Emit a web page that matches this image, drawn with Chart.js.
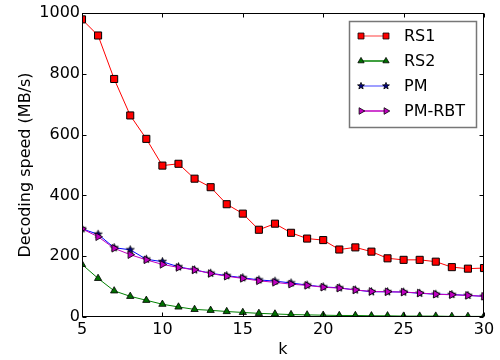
<!DOCTYPE html>
<html>
<head>
<meta charset="utf-8">
<script src="https://cdn.jsdelivr.net/npm/chart.js@4/dist/chart.umd.min.js"></script>
<style>
  html, body { margin: 0; padding: 0; background: #fff; }
  #wrap { width: 500px; height: 360px; }
</style>
</head>
<body>
<div id="wrap"><canvas id="c" width="500" height="360"></canvas></div>
<script>
// ---- data ----
const kValues = [5,6,7,8,9,10,11,12,13,14,15,16,17,18,19,20,21,22,23,24,25,26,27,28,29,30];
const rs1   = [979,926,783,663,586,498,504,455,427,371,340,287,307,277,258,253,222,229,215,193,188,188,182,164,159,161];
const rs2   = [173,127,86,68,55,42,33,25,22,18,15,12,10,8,7,6,5,5,4,4,3,3,3,2,2,2];
const pm    = [290,272,228,221,190,182,165,155,144,136,129,122,118,112,105,99,96,89,83,83,82,78,75,74,71,68];
const pmrbt = [290,264,226,205,188,173,163,155,143,134,127,119,114,108,104,98,95,89,84,83,82,79,75,73,71,68];
const seriesLabels = ['RS1', 'RS2', 'PM', 'PM-RBT'];
const xTicks = [5, 10, 15, 20, 25, 30];
const yTicks = [0, 200, 400, 600, 800, 1000];
const xTitle = 'k';
const yTitle = 'Decoding speed (MB/s)';

const FONT = "'DejaVu Sans', sans-serif";

function toPoints(arr) { return arr.map((v, i) => ({ x: kValues[i], y: v })); }

// star marker image
function makeStar(r, fill) {
  const s = Math.ceil(r * 2 + 4);
  const c = document.createElement('canvas');
  c.width = s; c.height = s;
  const g = c.getContext('2d');
  const cx = s / 2, cy = s / 2, ri = r * 0.42;
  g.beginPath();
  for (let i = 0; i < 10; i++) {
    const rr = i % 2 === 0 ? r : ri;
    const a = -Math.PI / 2 + i * Math.PI / 5;
    const px = cx + rr * Math.cos(a), py = cy + rr * Math.sin(a);
    if (i === 0) g.moveTo(px, py); else g.lineTo(px, py);
  }
  g.closePath();
  g.fillStyle = fill; g.fill();
  g.lineWidth = 0.8; g.strokeStyle = '#000'; g.stroke();
  return c;
}
const starImg = makeStar(4.2, '#000080');
const starImgSmall = makeStar(3.6, '#000080');

const datasets = [
  { label: seriesLabels[0], data: toPoints(rs1), borderColor: '#ff0000', backgroundColor: '#ff0000',
    pointStyle: 'rect', pointRadius: 5, pointBorderColor: '#000', pointBackgroundColor: '#ff0000',
    pointBorderWidth: 1, borderWidth: 1, order: 4, legendLine: 'rgba(255,0,0,0.5)', legendRadius: 4.2 },
  { label: seriesLabels[1], data: toPoints(rs2), borderColor: '#008000', backgroundColor: '#008000',
    pointStyle: 'triangle', pointRadius: 4.2, pointBorderColor: '#000', pointBackgroundColor: '#007000',
    pointBorderWidth: 0.8, borderWidth: 1, order: 3, legendLine: '#008000', legendRadius: 3.6 },
  { label: seriesLabels[2], data: toPoints(pm), borderColor: '#0000ff', backgroundColor: '#0000ff',
    pointStyle: starImg, pointRadius: 4, pointBorderColor: '#000', pointBackgroundColor: '#000080',
    pointBorderWidth: 0.8, borderWidth: 1, order: 2, legendLine: 'rgba(0,0,255,0.5)', legendImg: starImgSmall },
  { label: seriesLabels[3], data: toPoints(pmrbt), borderColor: '#bf00bf', backgroundColor: '#bf00bf',
    pointStyle: 'triangle', pointRotation: 90, pointRadius: 4.4, pointBorderColor: '#000', pointBackgroundColor: '#c000c0',
    pointBorderWidth: 0.8, borderWidth: 1, order: 1, legendLine: '#bf00bf', legendRadius: 3.8 }
];

const frameAndLegend = {
  id: 'frameAndLegend',
  afterDraw(chart) {
    const ctx = chart.ctx;
    const a = chart.chartArea;
    const xs = chart.scales.x, ys = chart.scales.y;
    const L = Math.round(a.left) + 0.5, R = Math.round(a.right) - 0.5;
    const T = Math.round(a.top) + 0.5, B = Math.round(a.bottom) - 0.5;
    ctx.save();
    ctx.strokeStyle = '#000';
    ctx.lineWidth = 1;
    ctx.strokeRect(L, T, R - L, B - T);
    const tl = 4;
    ctx.beginPath();
    xTicks.forEach(v => {
      const px = Math.round(xs.getPixelForValue(v)) + 0.5;
      ctx.moveTo(px, B); ctx.lineTo(px, B - tl);
      ctx.moveTo(px, T); ctx.lineTo(px, T + tl);
    });
    yTicks.forEach(v => {
      const py = Math.round(ys.getPixelForValue(v)) + 0.5;
      ctx.moveTo(L, py); ctx.lineTo(L + tl, py);
      ctx.moveTo(R, py); ctx.lineTo(R - tl, py);
    });
    ctx.stroke();

    // legend
    const bx = 349.5, by = 21.5, bw = 127, bh = 106;
    ctx.fillStyle = '#fff';
    ctx.fillRect(bx, by, bw, bh);
    ctx.strokeStyle = '#777';
    ctx.lineWidth = 1.5;
    ctx.strokeRect(bx, by, bw, bh);
    const x1 = 361, x2 = 386, tx = 404;
    ctx.font = '16px ' + FONT;
    ctx.textBaseline = 'middle';
    ctx.textAlign = 'left';
    chart.data.datasets.forEach((ds, i) => {
      const y = 36 + i * 25;
      ctx.strokeStyle = ds.legendLine;
      ctx.lineWidth = 1.5;
      ctx.beginPath(); ctx.moveTo(x1, y); ctx.lineTo(x2, y); ctx.stroke();
      [x1, x2].forEach(px => {
        if (ds.legendImg) {
          ctx.drawImage(ds.legendImg, px - ds.legendImg.width / 2, y - ds.legendImg.height / 2);
        } else {
          ctx.fillStyle = ds.pointBackgroundColor;
          ctx.strokeStyle = '#000';
          ctx.lineWidth = 0.8;
          Chart.helpers.drawPoint(ctx, { pointStyle: ds.pointStyle, rotation: ds.pointRotation || 0,
            radius: ds.legendRadius, borderWidth: 0.8 }, px, y);
        }
      });
      ctx.fillStyle = '#000';
      ctx.fillText(ds.label, tx, y + 1);
    });
    ctx.restore();
  }
};

new Chart(document.getElementById('c'), {
  type: 'line',
  data: { datasets },
  options: {
    responsive: false,
    animation: false,
    layout: { padding: { top: 13, right: 16, left: 0, bottom: 0 } },
    plugins: { legend: { display: false }, tooltip: { enabled: false } },
    elements: { line: { tension: 0 } },
    scales: {
      x: {
        type: 'linear', min: 5, max: 30,
        afterBuildTicks: s => { s.ticks = xTicks.map(v => ({ value: v })); },
        afterFit: s => { s.height = 43; },
        grid: { display: false, drawTicks: false },
        border: { display: false },
        ticks: { color: '#000', font: { family: FONT, size: 16 }, padding: 3, maxRotation: 0,
                 callback: v => String(v) },
        title: { display: true, text: xTitle, color: '#000', font: { family: FONT, size: 16 }, padding: { top: 0, bottom: 1 } }
      },
      y: {
        type: 'linear', min: 0, max: 1000,
        afterBuildTicks: s => { s.ticks = yTicks.map(v => ({ value: v })); },
        afterFit: s => { s.width = 82; },
        grid: { display: false, drawTicks: false },
        border: { display: false },
        ticks: { color: '#000', font: { family: FONT, size: 16 }, padding: 2, callback: v => String(v) },
        title: { display: true, text: yTitle, color: '#000', font: { family: FONT, size: 16 }, padding: { top: 16, bottom: 0 } }
      }
    }
  },
  plugins: [frameAndLegend]
});
</script>
</body>
</html>
